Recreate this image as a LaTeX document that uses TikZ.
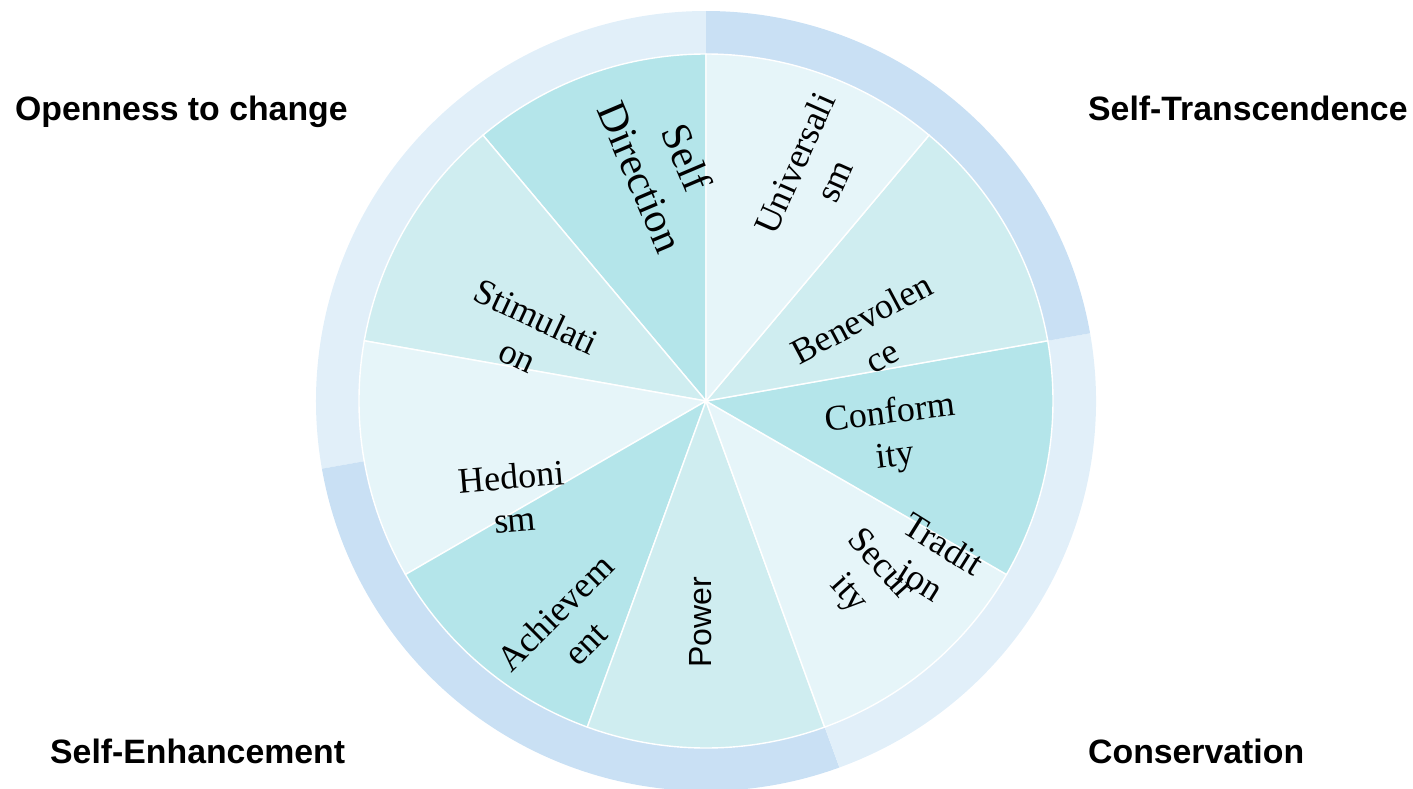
\documentclass[tikz,border=0pt]{standalone}
\usepackage{fontspec}
\setmainfont{Liberation Serif}
\newfontfamily\arialfont{Liberation Sans}
\definecolor{sdark}{HTML}{B4E5EA}
\definecolor{smed}{HTML}{CFEDF0}
\definecolor{slight}{HTML}{E6F5F9}
\definecolor{rlight}{HTML}{E1EFF9}
\definecolor{rdark}{HTML}{C9E0F4}
\tikzset{
  slice/.style={draw=white, line width=1.4pt},
  valuelbl/.style={inner sep=0pt, align=center, text=black, font=\fontsize{36}{43}\selectfont},
  biglbl/.style={inner sep=0pt, align=center, text=black, font=\fontsize{42}{50}\selectfont},
  powerlbl/.style={inner sep=0pt, text=black, font=\arialfont\fontsize{32}{38}\selectfont},
  grouplbl/.style={inner sep=0pt, anchor=base west, text=black, font=\arialfont\bfseries\fontsize{33.8}{40}\selectfont}
}
\newcommand{\ringseg}[3]{\fill[#1] (#2:390) arc[start angle=#2, end angle=#3, radius=390] -- (#3:347) arc[start angle=#3, end angle=#2, radius=347] -- cycle;}
\newcommand{\pieseg}[3]{\filldraw[slice, fill=#1] (0,0) -- (#2:347) arc[start angle=#2, end angle=#3, radius=347] -- cycle;}
\begin{document}
\begin{tikzpicture}[x=1pt,y=1pt]
\useasboundingbox (-706,-387) rectangle (707,401);
% outer ring
\ringseg{rlight}{90}{190}
\ringseg{rdark}{190}{290}
\ringseg{rlight}{290}{370}
\ringseg{rdark}{10}{90}
% pie
\pieseg{sdark}{90}{130}
\pieseg{smed}{130}{170}
\pieseg{slight}{170}{210}
\pieseg{sdark}{210}{250}
\pieseg{smed}{250}{290}
\pieseg{slight}{290}{330}
\pieseg{sdark}{330}{370}
\pieseg{smed}{10}{50}
\pieseg{slight}{50}{90}
\coordinate (center) at (0,0);
% labels
\node[biglbl, rotate=-67] (selfdir) at (-42,234) {Self\\Direction};
\node[valuelbl, rotate=66] (univ) at (108,229) {Universali\\sm};
\node[valuelbl, rotate=28] (benev) at (166,64) {Benevolen\\ce};
\node[valuelbl, rotate=7] (conf) at (187,-35) {Conform\\ity};
\node[valuelbl, rotate=-32] (trad) at (226,-161) {Tradit\\ion};
\node[valuelbl, rotate=-48] (secur) at (158,-179) {Secur\\ity};
\node[powerlbl, rotate=90] (power) at (-5,-221) {Power};
\node[valuelbl, rotate=45] (achiev) at (-136,-227) {Achievem\\ent};
\node[valuelbl, rotate=5] (hedon) at (-193,-97) {Hedoni\\sm};
\node[valuelbl, rotate=-25] (stim) at (-179,65) {Stimulati\\on};
% group labels
\node[grouplbl] (open) at (-691,281) {Openness to change};
\node[grouplbl] (trans) at (382,281) {Self-Transcendence};
\node[grouplbl] (enh) at (-656,-362) {Self-Enhancement};
\node[grouplbl] (cons) at (382,-362) {Conservation};
\end{tikzpicture}
\end{document}
